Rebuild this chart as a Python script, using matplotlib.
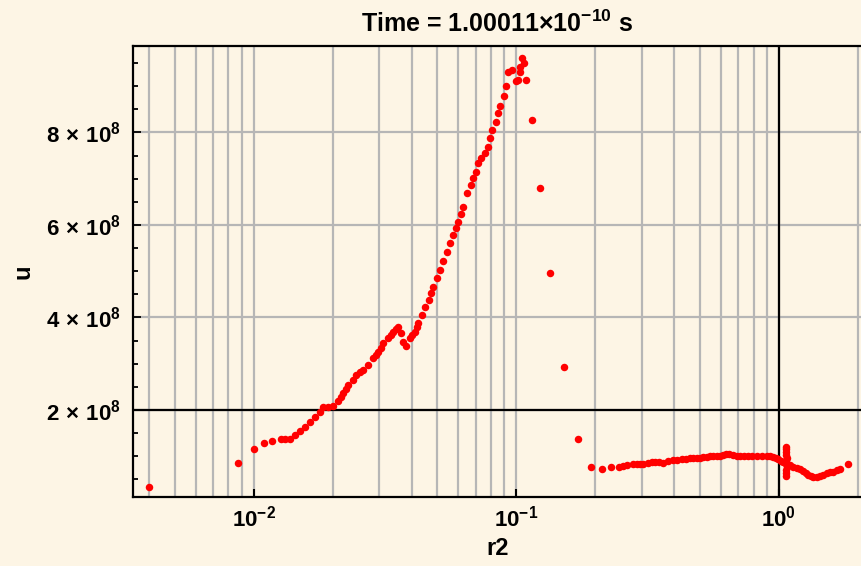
import matplotlib
matplotlib.use('Agg')
import matplotlib.pyplot as plt
from matplotlib.ticker import FixedLocator, NullFormatter

plt.rcParams['font.family'] = ['Liberation Sans', 'DejaVu Sans']
plt.rcParams['font.weight'] = 'bold'
plt.rcParams['mathtext.fontset'] = 'custom'
plt.rcParams['mathtext.rm'] = 'Liberation Sans:bold'
plt.rcParams['mathtext.it'] = 'Liberation Sans:bold'
plt.rcParams['mathtext.bf'] = 'Liberation Sans:bold'
plt.rcParams['mathtext.default'] = 'regular'

# ---------------- data ----------------
r2 = [0.0040, 0.00867, 0.0100, 0.01091, 0.01178, 0.01268, 0.01312, 0.01371,
      0.01432, 0.01496, 0.01563, 0.01633, 0.01706, 0.01782, 0.01837, 0.01919,
      0.02005, 0.02094, 0.02188, 0.02286, 0.02388, 0.0246, 0.02606, 0.02723,
      0.02844, 0.02978, 0.03112, 0.0325, 0.03396, 0.03548, 0.03622, 0.03707,
      0.03793, 0.03926, 0.04102, 0.04227, 0.04355, 0.04477, 0.04656, 0.0482,
      0.05117, 0.0542, 0.05741, 0.05998, 0.06266, 0.06457, 0.06745, 0.0684,
      0.07047, 0.07145, 0.07362, 0.07586, 0.07816, 0.07925, 0.0809, 0.08375,
      0.0853, 0.0865, 0.08954, 0.0912, 0.0929, 0.0959, 0.1000, 0.1016,
      0.1031, 0.1031, 0.1047, 0.1068, 0.1090, 0.1148, 0.1229, 0.1345,
      0.1520, 0.1719, 0.1917, 0.2126, 0.2291, 0.2457, 0.2636, 0.2786,
      0.2877, 0.3041, 0.3178, 0.3370, 0.3624, 0.3787, 0.3957, 0.4260,
      0.4581, 0.4860, 0.5148, 0.5459, 0.5789, 0.6135, 0.6467, 0.6698,
      0.7102, 0.7638, 0.8222, 0.8977, 0.9512, 0.9939, 1.0385,
      1.066, 1.067, 1.068, 1.068, 1.069, 1.068, 1.068, 1.069, 1.068, 1.067, 1.068,
      1.101, 1.168, 1.238, 1.293, 1.351, 1.433, 1.519, 1.610, 1.708, 1.837]

u = [0.342e8, 0.861e8, 1.157e8, 1.286e8, 1.336e8, 1.373e8, 1.373e8, 1.366e8,
     1.459e8, 1.552e8, 1.639e8, 1.747e8, 1.855e8, 1.963e8, 2.058e8, 2.071e8,
     2.086e8, 2.201e8, 2.368e8, 2.541e8, 2.649e8, 2.757e8, 2.865e8, 2.973e8,
     3.118e8, 3.261e8, 3.442e8, 3.550e8, 3.693e8, 3.801e8, 3.658e8, 3.477e8,
     3.384e8, 3.550e8, 3.693e8, 3.875e8, 4.054e8, 4.234e8, 4.378e8, 4.666e8,
     5.027e8, 5.423e8, 5.784e8, 6.071e8, 6.396e8, 6.685e8, 6.865e8, 7.010e8,
     7.153e8, 7.334e8, 7.442e8, 7.550e8, 7.693e8, 7.875e8, 8.054e8, 8.234e8,
     8.415e8, 8.573e8, 8.789e8, 9.005e8, 9.302e8, 9.351e8, 9.103e8, 9.135e8,
     9.302e8, 9.423e8, 9.604e8, 9.509e8, 9.135e8, 8.270e8, 6.807e8, 4.956e8,
     2.923e8, 1.373e8, 0.774e8, 0.724e8, 0.774e8, 0.774e8, 0.817e8, 0.826e8,
     0.826e8, 0.832e8, 0.861e8, 0.869e8, 0.861e8, 0.897e8, 0.919e8, 0.934e8,
     0.956e8, 0.956e8, 0.977e8, 0.999e8, 1.005e8, 1.021e8, 1.049e8, 1.021e8,
     1.012e8, 1.012e8, 1.012e8, 1.012e8, 0.990e8, 0.934e8, 0.882e8,
     1.206e8, 1.150e8, 1.092e8, 1.030e8, 0.962e8, 0.900e8, 0.832e8, 0.770e8, 0.703e8, 0.640e8, 0.573e8,
     0.811e8, 0.739e8, 0.688e8, 0.595e8, 0.558e8, 0.573e8, 0.631e8, 0.666e8, 0.724e8, 0.826e8]

# further points read where the dots overlap into a continuous band
r2_band = [0.02145, 0.02241, 0.02534, 0.02916, 0.03046, 0.03327, 0.03475,
           0.04018, 0.04169, 0.04725, 0.04966, 0.0526, 0.0558, 0.05884, 0.06148,
           0.2545, 0.2954, 0.3273, 0.3490, 0.4107, 0.4421, 0.4716, 0.5000,
           0.5303, 0.5620, 0.5959, 0.6301, 0.6901, 0.7356, 0.7925, 0.8593,
           0.9241, 0.974, 1.0177,
           1.134, 1.202, 1.265, 1.324, 1.392, 1.475, 1.564, 1.659]
u_band = [2.281e8, 2.454e8, 2.811e8, 3.189e8, 3.351e8, 3.622e8, 3.751e8,
          3.622e8, 3.784e8, 4.530e8, 4.854e8, 5.222e8, 5.611e8, 5.935e8, 6.238e8,
          0.800e8, 0.828e8, 0.865e8, 0.865e8, 0.925e8, 0.946e8, 0.956e8, 0.966e8,
          0.988e8, 1.001e8, 1.012e8, 1.038e8, 1.016e8, 1.012e8, 1.012e8, 1.012e8,
          1.001e8, 0.962e8, 0.908e8,
          0.778e8, 0.714e8, 0.638e8, 0.573e8, 0.562e8, 0.601e8, 0.649e8, 0.696e8]

x_major = [0.01, 0.1, 1.0]
x_major_labels = [r'$10^{-2}$', r'$10^{-1}$', r'$10^{0}$']
x_minor = [0.004, 0.005, 0.006, 0.007, 0.008, 0.009,
           0.02, 0.03, 0.04, 0.05, 0.06, 0.07, 0.08, 0.09,
           0.2, 0.3, 0.4, 0.5, 0.6, 0.7, 0.8, 0.9, 2.0]
y_major = [2e8, 4e8, 6e8, 8e8]
y_major_labels = [r'$2\,\times\,10^{8}$', r'$4\,\times\,10^{8}$',
                  r'$6\,\times\,10^{8}$', r'$8\,\times\,10^{8}$']
y_minor = [0.5e8, 1e8, 1.5e8, 2.5e8, 3e8, 3.5e8, 4.5e8, 5e8, 5.5e8,
           6.5e8, 7e8, 7.5e8, 8.5e8, 9e8, 9.5e8]

# ---------------- plot ----------------
bg = '#fdf5e5'
fig = plt.figure(figsize=(8.62, 5.66), dpi=100, facecolor=bg)
ax = fig.add_axes([133 / 862, 1 - 497 / 566, 1 - 133 / 862, (497 - 46) / 566])
ax.set_facecolor(bg)
ax.set_xscale('log')
ax.set_xlim(0.003467, 2.071)
ax.set_ylim(0.119e8, 9.87e8)

ax.xaxis.set_major_locator(FixedLocator(x_major))
ax.set_xticklabels(x_major_labels)
ax.xaxis.set_minor_locator(FixedLocator(x_minor))
ax.xaxis.set_minor_formatter(NullFormatter())
ax.yaxis.set_major_locator(FixedLocator(y_major))
ax.set_yticklabels(y_major_labels)
ax.yaxis.set_minor_locator(FixedLocator(y_minor))

grid_c = '#b6b6b6'
ax.grid(True, which='both', axis='x', color=grid_c, lw=1.6)
ax.grid(True, which='major', axis='y', color=grid_c, lw=1.6)
ax.set_axisbelow(True)

ax.axhline(2e8, color='black', lw=1.6, zorder=1.6)
ax.axvline(1.0, color='black', lw=1.6, zorder=1.6)

ax.plot(r2, u, 'o', color='#ff0000', ms=5.4, mec='none', zorder=3)
ax.plot(r2_band, u_band, 'o', color='#ff0000', ms=5.4, mec='none', zorder=3)

for s in ['left', 'bottom', 'top']:
    ax.spines[s].set_linewidth(1.6)
    ax.spines[s].set_color('black')
ax.spines['right'].set_visible(False)

ax.tick_params(axis='x', which='major', direction='in', length=6, width=1.5,
               labelsize=16, pad=6, top=False, colors='black')
ax.tick_params(axis='x', which='minor', length=0, top=False)
ax.tick_params(axis='y', which='major', direction='in', length=6, width=1.3,
               labelsize=16, pad=9, right=False)
ax.tick_params(axis='y', which='minor', direction='in', length=3.5, width=1.3, right=False)

ax.set_title(r'Time = 1.00011$\times10^{-10}$ s', fontsize=18, fontweight='bold', pad=10)
ax.set_xlabel('r2', fontsize=17, fontweight='bold', labelpad=4.5)
ax.set_ylabel('u', fontsize=17, fontweight='bold', labelpad=8)

fig.savefig('out.png', dpi=100, facecolor=bg)
